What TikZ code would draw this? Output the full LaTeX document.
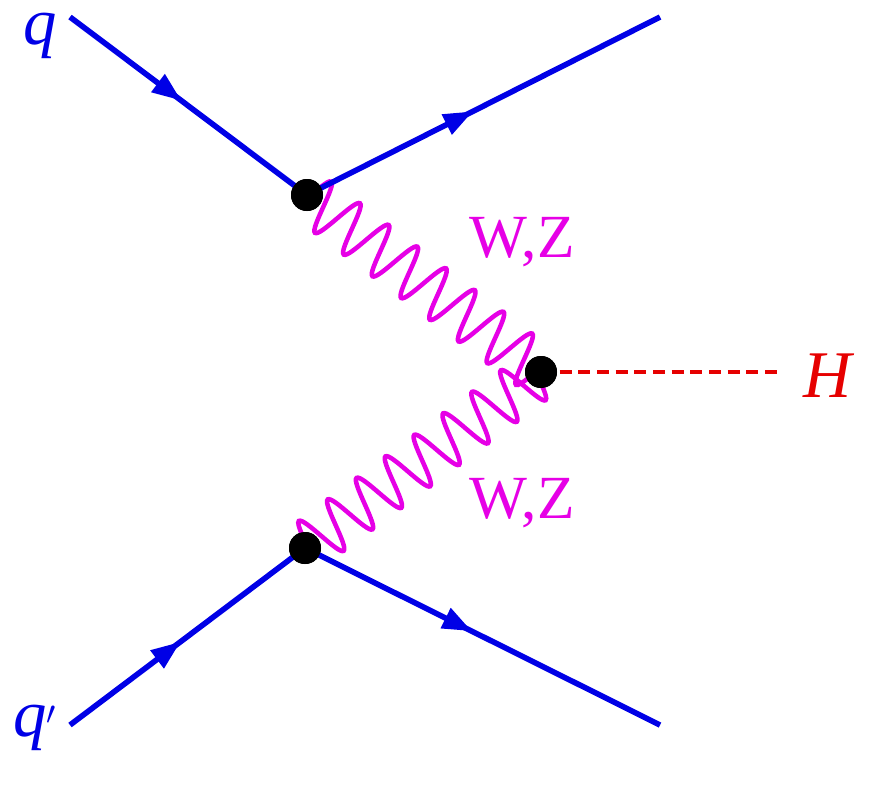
\documentclass[tikz,border=0pt]{standalone}
\usepackage{fontspec}
\setmainfont{Liberation Serif}
\usetikzlibrary{decorations.pathmorphing,decorations.markings,arrows.meta}
\definecolor{mag}{RGB}{230,0,230}
\definecolor{bl}{RGB}{0,0,230}
\definecolor{rd}{RGB}{230,0,0}
\begin{document}
\begin{tikzpicture}[x=0.75pt,y=-0.75pt,
  fermion/.style={draw=bl,line width=4.2pt,postaction={decorate},
    decoration={markings,mark=at position 0.47 with {\arrow{Triangle[length=22pt,width=16pt]}}}},
  boson/.style={draw=mag,line width=3.4pt,decorate,
    decoration={snake,amplitude=19pt,segment length=27pt}},
  higgs/.style={draw=rd,line width=3.6pt,dash pattern=on 9pt off 5pt},
  vtx/.style={circle,fill=black,minimum size=24pt,inner sep=0pt},
  lbl/.style={font=\fontsize{50}{50}\selectfont\itshape,inner sep=0pt}]
\useasboundingbox (0,0) rectangle (875,786);
\coordinate (a) at (70,17);
\coordinate (b) at (660,17);
\coordinate (c) at (70,725);
\coordinate (d) at (660,725);
\coordinate (h) at (780,372);
\node[vtx] (v1) at (307,195) {};
\node[vtx] (v2) at (305,548) {};
\node[vtx] (v3) at (541,372) {};
\draw[boson] (v1.center) -- (v3.center);
\draw[boson] (v2.center) -- (v3.center);
\draw[fermion,fill=bl] (a) -- (v1.center);
\draw[fermion,fill=bl] (v1.center) -- (b);
\draw[fermion,fill=bl] (c) -- (v2.center);
\draw[fermion,fill=bl] (v2.center) -- (d);
\draw[higgs] (v3.center) -- (h);
\node[vtx] at (v1) {};
\node[vtx] at (v2) {};
\node[vtx] at (v3) {};
\node[lbl,text=bl] (lq) at (40,36) {q};
\node[lbl,text=bl] (lq2) at (35,728) {q$'$};
\node[lbl,text=rd] (lh) at (828,376) {H};
\node[font=\fontsize{46}{46}\selectfont,text=mag,inner sep=0pt] (wz1) at (522,242) {W,Z};
\node[font=\fontsize{46}{46}\selectfont,text=mag,inner sep=0pt] (wz2) at (522,503) {W,Z};
\end{tikzpicture}
\end{document}
